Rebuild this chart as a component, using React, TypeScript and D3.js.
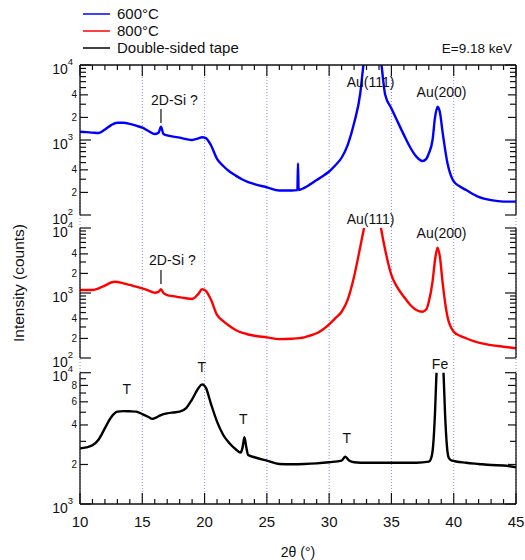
import React from 'react'
import * as d3 from 'd3'

// ---- data ----
const tt600 = [10, 10.5, 11, 11.5, 12, 12.5, 13, 13.5, 14, 14.5, 15, 15.5, 16, 16.3, 16.5, 16.7, 17, 17.5, 18, 18.5, 19, 19.5, 19.8, 20.1, 20.5, 21, 21.5, 22, 22.5, 23, 23.5, 24, 25, 26, 27, 27.45, 27.5, 27.55, 28, 28.5, 29, 29.5, 30, 30.5, 31, 31.5, 32, 32.5, 32.75, 33, 33.4, 33.8, 34.2, 34.5, 35, 35.5, 36, 36.5, 37, 37.5, 37.8, 38, 38.3, 38.5, 38.7, 38.9, 39.1, 39.5, 40, 40.5, 41, 42, 43, 44, 45]
const cnt600 = [1290, 1275, 1255, 1240, 1380, 1580, 1700, 1700, 1640, 1550, 1460, 1320, 1200, 1250, 1500, 1200, 1155, 1110, 1075, 1030, 1000, 1050, 1090, 1060, 860, 560, 450, 380, 335, 300, 275, 258, 234, 212, 212, 215, 490, 215, 230, 258, 293, 330, 380, 460, 580, 870, 1670, 4200, 10000, 20000, 40000, 30000, 10000, 4000, 2640, 1750, 1170, 800, 600, 525, 560, 660, 1000, 2000, 2780, 2300, 1300, 490, 280, 240, 215, 175, 158, 151, 151]

const tt800 = [10, 10.5, 11, 11.5, 12, 12.5, 12.8, 13.5, 14, 14.5, 15, 15.5, 16, 16.3, 16.5, 16.7, 17, 17.5, 18, 18.5, 19, 19.5, 19.8, 20.1, 20.5, 21, 21.5, 22, 22.5, 23, 23.5, 24, 25, 26, 27, 28, 28.5, 29, 29.5, 30, 30.5, 31, 31.5, 32, 32.5, 32.8, 33.1, 33.5, 33.9, 34.16, 34.5, 35, 35.5, 36, 36.5, 37, 37.5, 37.8, 38, 38.3, 38.5, 38.7, 38.9, 39.1, 39.5, 40, 40.5, 41, 42, 43, 44, 45]
const cnt800 = [1110, 1110, 1115, 1180, 1300, 1450, 1490, 1410, 1330, 1250, 1180, 1090, 1010, 1040, 1145, 1000, 930, 895, 860, 830, 810, 970, 1145, 1080, 800, 460, 370, 311, 270, 245, 230, 220, 208, 195, 198, 208, 222, 240, 275, 330, 410, 515, 800, 1780, 5150, 10000, 20000, 35000, 20000, 10000, 4600, 1890, 1200, 877, 660, 547, 515, 560, 734, 1500, 3220, 4980, 3500, 1500, 430, 254, 220, 201, 172, 158, 149, 141]

const ttTape = [10, 10.5, 11, 11.5, 12, 12.5, 13, 13.5, 14, 14.5, 15, 15.5, 15.8, 16, 16.5, 17, 17.5, 18, 18.5, 19, 19.5, 19.8, 20.1, 20.5, 21, 21.5, 22, 22.5, 22.9, 23.05, 23.2, 23.35, 23.5, 24, 25, 26, 27, 28, 29, 30, 31, 31.3, 31.6, 32, 33, 34, 35, 36, 37, 38, 38.2, 38.35, 38.5, 38.6, 38.7, 38.9, 39.1, 39.2, 39.3, 39.45, 39.6, 39.8, 41, 42, 43, 44, 45]
const cntTape = [2650, 2700, 2800, 3100, 3780, 4580, 5050, 5100, 5080, 5050, 4840, 4600, 4450, 4500, 4760, 4900, 4980, 5050, 5350, 6270, 7610, 8150, 7700, 5850, 4240, 3355, 2900, 2610, 2460, 2700, 3220, 2700, 2360, 2270, 2140, 2018, 2010, 2018, 2040, 2080, 2140, 2290, 2140, 2080, 2060, 2060, 2060, 2060, 2060, 2100, 2250, 2800, 5000, 9000, 14000, 18000, 14000, 9000, 5000, 2800, 2250, 2150, 2060, 2018, 1980, 1965, 1905]

const seriesNames = ['600°C', '800°C', 'Double-sided tape']
const seriesColors = ['#0000ff', '#ff0000', '#000000']
const xTicks = [10, 15, 20, 25, 30, 35, 40, 45]

// annotations: [text, 2θ, counts, panel index, anchor]
const notes: [string, number, number, number, string][] = [
  ['2D-Si ?', 15.7, 2930, 0, 'start'],
  ['Au(111)', 33.32, 5090, 0, 'middle'],
  ['Au(200)', 39.02, 3777, 0, 'middle'],
  ['2D-Si ?', 15.54, 2698, 1, 'start'],
  ['Au(111)', 33.32, 11520, 1, 'middle'],
  ['Au(200)', 39.02, 7020, 1, 'middle'],
  ['T', 13.75, 6880, 2, 'middle'],
  ['T', 19.77, 10120, 2, 'middle'],
  ['T', 23.11, 4045, 2, 'middle'],
  ['T', 31.41, 2898, 2, 'middle'],
  ['Fe', 38.9, 10670, 2, 'middle'],
]
// marker lines under "2D-Si ?": [2θ, from, to, panel]
const markers: [number, number, number, number][] = [
  [16.5, 2590, 1685, 0],
  [16.5, 2260, 1374, 1],
]

const W = 525
const H = 560
const FONT = '"Liberation Sans", Arial, sans-serif'
const x = d3.scaleLinear().domain([10, 45]).range([80, 516])

const panels = [
  { top: 65, bottom: 215, lo: 100, hi: 1e4, labels: [2, 4], xs: tt600, ys: cnt600 },
  { top: 228, bottom: 358, lo: 100, hi: 1e4, labels: [2, 4], xs: tt800, ys: cnt800 },
  { top: 372.7, bottom: 504, lo: 1e3, hi: 1e4, labels: [2, 4, 6, 8], xs: ttTape, ys: cntTape },
].map((p) => ({ ...p, y: d3.scaleLog().domain([p.lo, p.hi]).range([p.bottom, p.top]) }))

const logTicks = (lo: number, hi: number) => {
  const out: { v: number; k: number }[] = []
  for (let d = lo; d < hi; d *= 10) {
    for (let k = 1; k <= 9; k++) out.push({ v: k * d, k })
  }
  out.push({ v: hi, k: 1 })
  return out
}

const Panel = ({ p, i }: { p: any; i: number }) => {
  const line = d3
    .line<number>()
    .x((_, j) => x(p.xs[j]))
    .y((d) => p.y(d))
    .curve(d3.curveMonotoneX)
  const ticks = logTicks(p.lo, p.hi)
  return (
    <g>
      <clipPath id={`clip${i}`}>
        <rect x={80} y={p.top} width={436} height={p.bottom - p.top} />
      </clipPath>
      <path
        d={line(p.ys) || ''}
        fill="none"
        stroke={seriesColors[i]}
        strokeWidth={2.4}
        strokeLinejoin="round"
        clipPath={`url(#clip${i})`}
      />
      {/* left and right axes */}
      <line x1={80} x2={80} y1={p.top} y2={p.bottom} stroke="#111" strokeWidth={1.3} />
      <line x1={516} x2={516} y1={p.top} y2={p.bottom} stroke="#111" strokeWidth={1.3} />
      {ticks.map((t, j) => {
        const py = p.y(t.v)
        const labeled = t.k !== 1 && p.labels.includes(t.k)
        const len = t.k === 1 ? 11 : labeled ? 8 : 6
        return (
          <g key={j}>
            <line x1={80} x2={80 + len} y1={py} y2={py} stroke="#111" strokeWidth={1.2} />
            <line x1={516} x2={516 - len} y1={py} y2={py} stroke="#111" strokeWidth={1.2} />
            {t.k === 1 && (
              <text x={73} y={py + 8.5} textAnchor="end" fontSize={14} fontFamily={FONT} fill="#111">
                10
                <tspan dy={-9} fontSize={9.5}>
                  {Math.round(Math.log10(t.v))}
                </tspan>
              </text>
            )}
            {labeled && (
              <text x={77} y={py + 3.5} textAnchor="end" fontSize={10} fontFamily={FONT} fill="#111">
                {t.k}
              </text>
            )}
          </g>
        )
      })}
    </g>
  )
}

const App = () => {
  const top = panels[0].top
  const bottom = panels[2].bottom
  const minor = d3.range(10, 46, 1)
  return (
    <svg
      width={W}
      height={H}
      style={{ position: 'absolute', left: 0, top: 0, background: '#fff' }}
    >
      {/* dotted grid */}
      {xTicks.map((t) => (
        <line
          key={t}
          x1={x(t)}
          x2={x(t)}
          y1={top}
          y2={bottom}
          stroke="#8a8aff"
          strokeWidth={1}
          strokeDasharray="1 2"
        />
      ))}

      {panels.map((p, i) => (
        <Panel key={i} p={p} i={i} />
      ))}

      {/* top and bottom x axes */}
      <line x1={80} x2={516} y1={top} y2={top} stroke="#111" strokeWidth={1.3} />
      <line x1={80} x2={516} y1={bottom} y2={bottom} stroke="#111" strokeWidth={1.3} />
      {minor.map((t) => {
        const len = t % 5 === 0 ? 11 : 5
        return (
          <g key={t}>
            <line x1={x(t)} x2={x(t)} y1={top} y2={top + len} stroke="#111" strokeWidth={1.2} />
            <line x1={x(t)} x2={x(t)} y1={bottom} y2={bottom - len} stroke="#111" strokeWidth={1.2} />
          </g>
        )
      })}
      {xTicks.map((t) => (
        <text key={t} x={x(t)} y={527} textAnchor="middle" fontSize={15} fontFamily={FONT} fill="#111">
          {t}
        </text>
      ))}
      <text x={298} y={557} textAnchor="middle" fontSize={14} fontFamily={FONT} fill="#111">
        2θ (°)
      </text>
      <text
        transform="translate(24,283) rotate(-90)"
        textAnchor="middle"
        fontSize={15.5}
        fontFamily={FONT}
        fill="#111"
      >
        Intensity (counts)
      </text>

      {/* annotations */}
      {notes.map(([txt, tt, c, pi, anchor], j) => (
        <text
          key={j}
          x={x(tt)}
          y={panels[pi].y(c)}
          textAnchor={anchor}
          fontSize={14}
          fontFamily={FONT}
          fill="#111"
        >
          {txt}
        </text>
      ))}
      {markers.map(([tt, a, b, pi], j) => (
        <line
          key={j}
          x1={x(tt)}
          x2={x(tt)}
          y1={panels[pi].y(a)}
          y2={panels[pi].y(b)}
          stroke="#111"
          strokeWidth={1.2}
        />
      ))}

      {/* legend */}
      {seriesNames.map((n, i) => (
        <g key={n} transform={`translate(0, ${14 + i * 17})`}>
          <line x1={83} x2={110} y1={0} y2={0} stroke={seriesColors[i]} strokeWidth={1.5} />
          <text x={117} y={5.3} fontSize={15} fontFamily={FONT} fill="#111">
            {n}
          </text>
        </g>
      ))}
      <text x={512} y={53} textAnchor="end" fontSize={13.5} fontFamily={FONT} fill="#111">
        E=9.18 keV
      </text>
    </svg>
  )
}

export default App
